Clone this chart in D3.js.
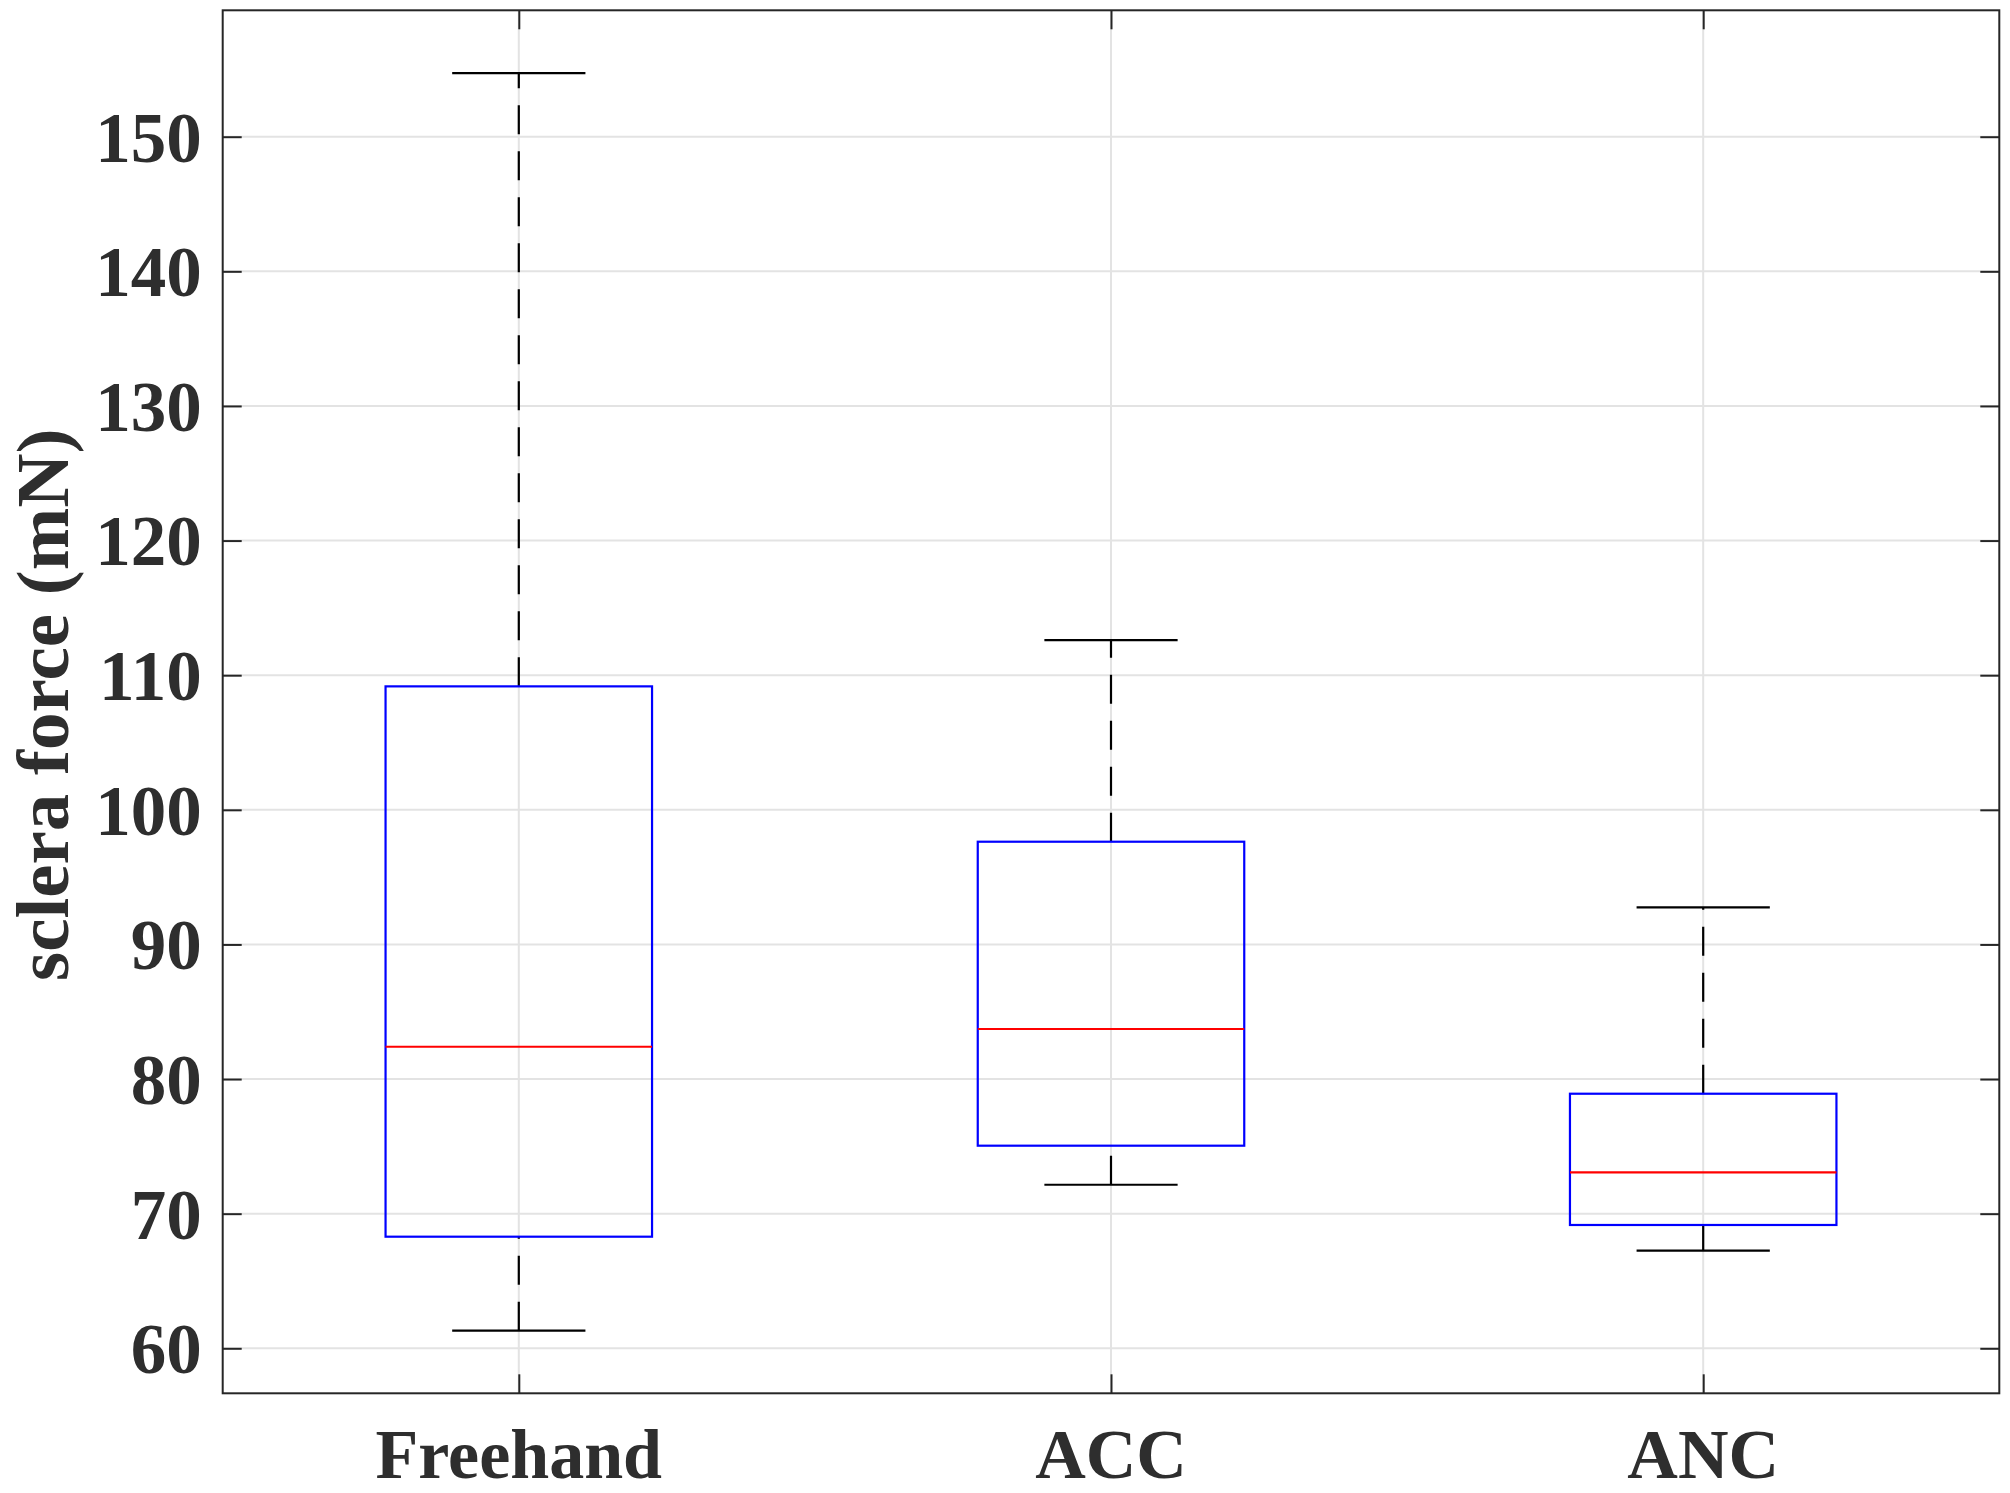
<!DOCTYPE html>
<html>
<head>
<meta charset="utf-8">
<script src="https://cdn.jsdelivr.net/npm/d3@7"></script>
<style>
  html, body { margin: 0; padding: 0; background: #ffffff; }
  svg { display: block; }
</style>
</head>
<body>
<svg id="chart" width="2010" height="1493"></svg>
<script>
// ---- data ----
const categories   = ["Freehand", "ACC", "ANC"];
const whiskerLow   = [61.31, 72.15, 67.25];
const q1           = [68.29, 75.05, 69.16];
const medians      = [82.40, 83.72, 73.07];
const q3           = [109.17, 97.63, 78.91];
const whiskerHigh  = [154.73, 112.61, 92.76];
const yTicks       = [60, 70, 80, 90, 100, 110, 120, 130, 140, 150];
const yLabel       = "sclera force (mN)";

(function () {
// ---- layout ----
const pL = 222.7, pR = 1999.3, pT = 10.3, pB = 1393.3;
const svg = d3.select("#chart");

const x = d3.scaleLinear().domain([0.5, 3.5]).range([pL, pR]);
const y = d3.scaleLinear().domain([56.657, 159.39]).range([pB, pT]);

const boxHalf = 0.225, capHalf = 0.1125;
const ink = "#262626";
const textInk = "#2e2e2e";
const gridColor = "#e3e3e3";
const tickLen = 19;
const font = "'Liberation Serif', 'Times New Roman', serif";

const positions = categories.map((c, i) => i + 1);

// grid
const g = svg.append("g");
g.selectAll("line.hgrid").data(yTicks).enter().append("line")
  .attr("x1", pL).attr("x2", pR)
  .attr("y1", d => y(d)).attr("y2", d => y(d))
  .attr("stroke", gridColor).attr("stroke-width", 2);
g.selectAll("line.vgrid").data(positions).enter().append("line")
  .attr("x1", d => x(d)).attr("x2", d => x(d))
  .attr("y1", pT).attr("y2", pB)
  .attr("stroke", gridColor).attr("stroke-width", 2);

// boxplots
const data = categories.map((c, i) => ({
  pos: positions[i], lo: whiskerLow[i], q1: q1[i], med: medians[i], q3: q3[i], hi: whiskerHigh[i]
}));
const bx = svg.append("g").selectAll("g").data(data).enter().append("g");

// whiskers (dashed), drawn from lower value up
bx.append("line")
  .attr("x1", d => x(d.pos)).attr("x2", d => x(d.pos))
  .attr("y1", d => y(d.lo)).attr("y2", d => y(d.q1))
  .attr("stroke", "#000").attr("stroke-width", 2.2).attr("stroke-dasharray", "29 17");
bx.append("line")
  .attr("x1", d => x(d.pos)).attr("x2", d => x(d.pos))
  .attr("y1", d => y(d.q3)).attr("y2", d => y(d.hi))
  .attr("stroke", "#000").attr("stroke-width", 2.2).attr("stroke-dasharray", "29 17");
// caps
bx.append("line")
  .attr("x1", d => x(d.pos - capHalf)).attr("x2", d => x(d.pos + capHalf))
  .attr("y1", d => y(d.hi)).attr("y2", d => y(d.hi))
  .attr("stroke", "#000").attr("stroke-width", 2.2);
bx.append("line")
  .attr("x1", d => x(d.pos - capHalf)).attr("x2", d => x(d.pos + capHalf))
  .attr("y1", d => y(d.lo)).attr("y2", d => y(d.lo))
  .attr("stroke", "#000").attr("stroke-width", 2.2);
// box
bx.append("rect")
  .attr("x", d => x(d.pos - boxHalf))
  .attr("width", d => x(d.pos + boxHalf) - x(d.pos - boxHalf))
  .attr("y", d => y(d.q3))
  .attr("height", d => y(d.q1) - y(d.q3))
  .attr("fill", "none").attr("stroke", "#0000ff").attr("stroke-width", 2.2);
// median
bx.append("line")
  .attr("x1", d => x(d.pos - boxHalf)).attr("x2", d => x(d.pos + boxHalf))
  .attr("y1", d => y(d.med)).attr("y2", d => y(d.med))
  .attr("stroke", "#ff0000").attr("stroke-width", 2.2);

// axes frame
svg.append("rect")
  .attr("x", pL).attr("y", pT)
  .attr("width", pR - pL).attr("height", pB - pT)
  .attr("fill", "none").attr("stroke", ink).attr("stroke-width", 2);

// y ticks (inside, both sides) via d3 axes
const yAxisL = d3.axisLeft(y).tickValues(yTicks).tickSize(-tickLen).tickFormat("");
const yAxisR = d3.axisRight(y).tickValues(yTicks).tickSize(-tickLen).tickFormat("");
svg.append("g").attr("transform", `translate(${pL},0)`).call(yAxisL)
  .call(s => s.select(".domain").remove())
  .selectAll("line").attr("stroke", ink).attr("stroke-width", 2);
svg.append("g").attr("transform", `translate(${pR},0)`).call(yAxisR)
  .call(s => s.select(".domain").remove())
  .selectAll("line").attr("stroke", ink).attr("stroke-width", 2);

// x ticks (inside, top and bottom)
const xAxisB = d3.axisBottom(x).tickValues(positions).tickSize(-tickLen).tickFormat("");
const xAxisT = d3.axisTop(x).tickValues(positions).tickSize(-tickLen).tickFormat("");
svg.append("g").attr("transform", `translate(0,${pB})`).call(xAxisB)
  .call(s => s.select(".domain").remove())
  .selectAll("line").attr("stroke", ink).attr("stroke-width", 2);
svg.append("g").attr("transform", `translate(0,${pT})`).call(xAxisT)
  .call(s => s.select(".domain").remove())
  .selectAll("line").attr("stroke", ink).attr("stroke-width", 2);

// y tick labels
svg.append("g").selectAll("text").data(yTicks).enter().append("text")
  .attr("x", pL - 21)
  .attr("y", d => y(d))
  .attr("dy", "0.35em")
  .attr("text-anchor", "end")
  .attr("font-family", font).attr("font-weight", "bold")
  .attr("font-size", 71).attr("fill", textInk)
  .text(d => d);

// x tick labels
svg.append("g").selectAll("text").data(categories).enter().append("text")
  .attr("x", (d, i) => x(positions[i]))
  .attr("y", 1478)
  .attr("text-anchor", "middle")
  .attr("font-family", font).attr("font-weight", "bold")
  .attr("font-size", 70).attr("fill", textInk)
  .text(d => d);

// y axis label
svg.append("text")
  .attr("transform", `translate(68,${(pT + pB) / 2 + 3}) rotate(-90)`)
  .attr("text-anchor", "middle")
  .attr("font-family", font).attr("font-weight", "bold")
  .attr("font-size", 75).attr("fill", textInk)
  .text(yLabel);
})();
</script>
</body>
</html>
